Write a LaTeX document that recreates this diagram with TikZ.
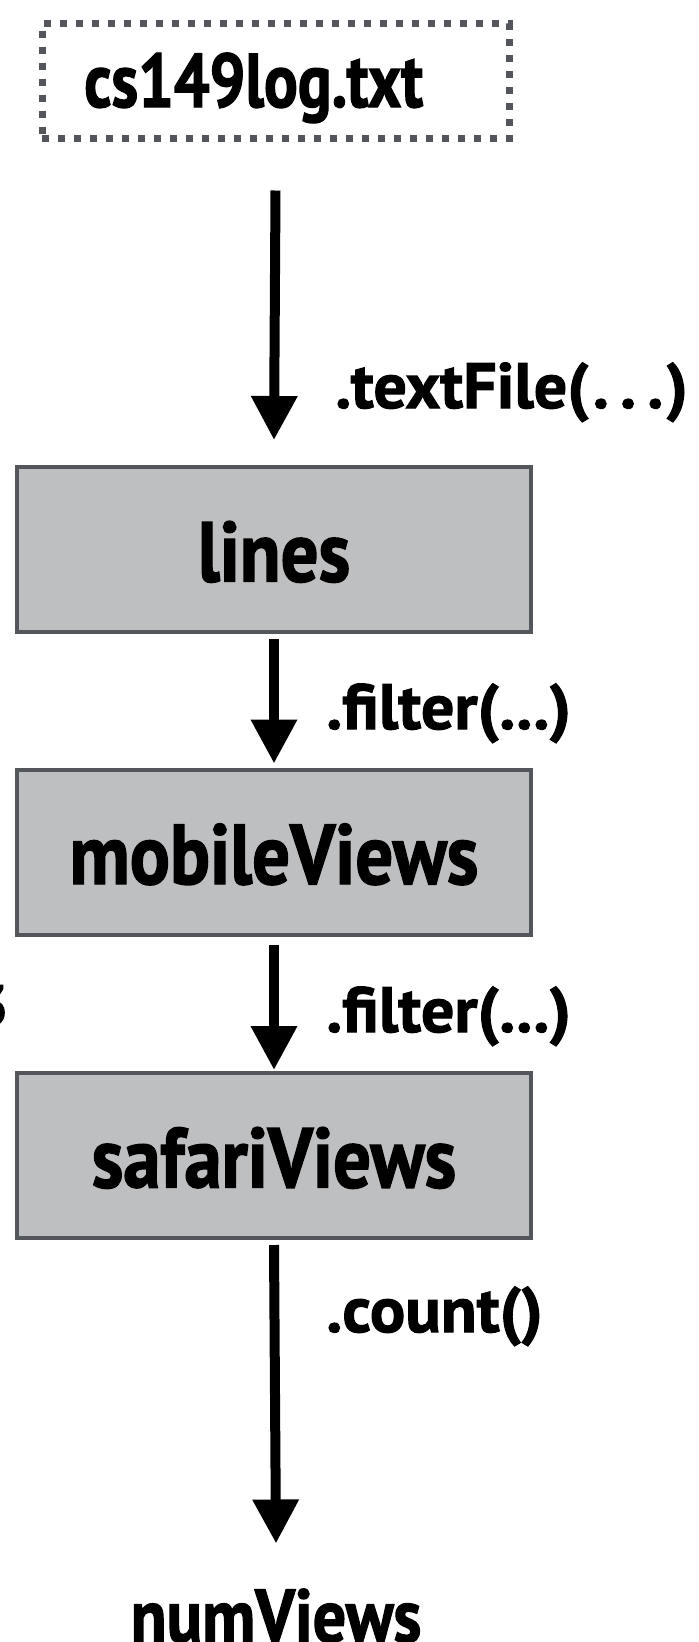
\documentclass[tikz,border=0pt]{standalone}
\usepackage{fontspec}
\setmainfont{PT Sans}[FakeStretch=0.88, BoldFeatures={FakeBold=1.6}]
\newfontfamily\srcfam{PT Sans}[FakeStretch=0.83, BoldFeatures={FakeBold=1.6}]
\newfontfamily\opfam{PT Sans}[FakeStretch=1.03, BoldFeatures={FakeBold=1.6}]
\usetikzlibrary{arrows.meta}
\definecolor{boxfill}{HTML}{BEBFC1}
\definecolor{boxedge}{HTML}{53575C}
\newcommand\rddname{\fontsize{85}{90}\selectfont\bfseries}
\newcommand\resname{\fontsize{75}{80}\selectfont\bfseries}
\newcommand\srcname{\srcfam\fontsize{76}{80}\selectfont\bfseries}
\newcommand\opname{\opfam\fontsize{64}{70}\selectfont\bfseries}
\begin{document}
\begin{tikzpicture}[x=1pt,y=-1pt,
  rdd/.style={draw=boxedge, fill=boxfill, line width=4pt, minimum width=514pt,
    minimum height=165pt, inner sep=0pt, outer sep=0pt,
    text height=64pt, text depth=0pt, font=\rddname},
  srcbox/.style={draw=boxedge, line width=7pt, dash pattern=on 7pt off 9pt,
    minimum width=467pt, minimum height=115pt, inner sep=0pt, outer sep=0pt},
  flow/.style={line width=10pt, -{Triangle[width=44pt,length=44pt]}},
  op/.style={anchor=base west, inner sep=0pt, font=\opname},
]
\useasboundingbox (0,0) rectangle (699,1642);

% input file
\node[srcbox] (src) at (275.5,81) {};
\node[anchor=base west, inner sep=0pt, font=\srcname] (srctxt) at (84,107) {cs149log.txt};

% RDDs
\node[rdd] (lines) at (274,549.5) {lines};
\node[rdd] (mob)   at (274,852)   {mobileViews};
\node[rdd] (saf)   at (274,1155.5) {safariViews};

% result
\node[anchor=base, inner sep=0pt, font=\resname] (num) at (276,1642) {numViews};

% partly visible text at the left edge
\node[anchor=base east, inner sep=0pt, font=\fontsize{57}{60}\selectfont\bfseries] (edge3) at (8,1025) {3};

% transformations
\draw[flow] ([yshift=-52pt]src.south) -- ([yshift=27pt]lines.north);
\draw[flow] ([yshift=-7pt]lines.south) -- ([yshift=6pt]mob.north);
\draw[flow] ([yshift=-10pt]mob.south) -- ([yshift=3pt]saf.north);
\draw[flow] ([yshift=-7pt]saf.south) -- ([yshift=45pt]num.north);

\node[op] (op1) at (335,408) {.textFile(\kern4pt.\kern11pt.\kern11pt.\kern3pt)};
\node[op] (op2) at (326,729) {.filter(...)};
\node[op] (op3) at (326,1032) {.filter(...)};
\node[op] (op4) at (326,1332) {.count()};
\end{tikzpicture}
\end{document}
